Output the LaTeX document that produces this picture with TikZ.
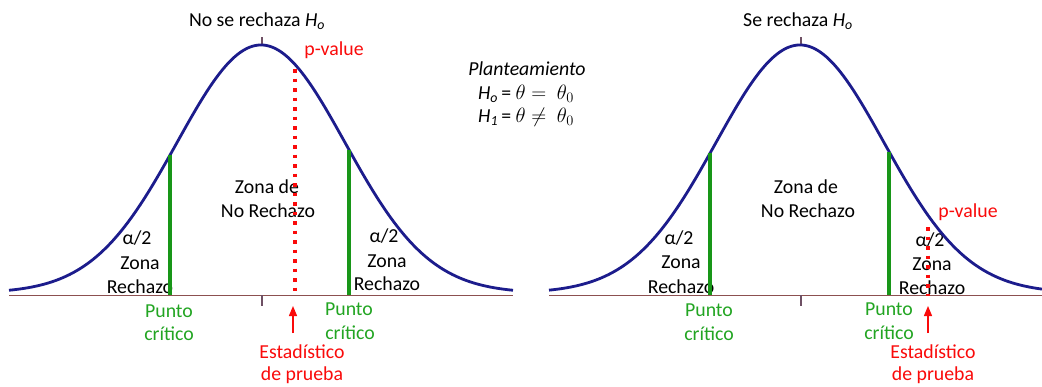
\documentclass[tikz,border=0pt]{standalone}
\usepackage{fontspec}
\setmainfont{Carlito}
\usetikzlibrary{arrows.meta}
\definecolor{curveblue}{RGB}{28,28,140}
\definecolor{critgreen}{RGB}{24,150,24}
\definecolor{gtextc}{RGB}{34,165,34}
\definecolor{redc}{RGB}{250,10,10}
\definecolor{axisc}{RGB}{140,80,80}
\definecolor{tickc}{RGB}{110,80,100}
\newcommand{\cy}[2]{293-248*exp(-0.5*((#1-#2)/84)*((#1-#2)/84))}
\newcommand{\bigmath}[1]{{\fontsize{20.74}{23}\selectfont$#1$}}
\tikzset{
  lbl/.style={anchor=base, inner sep=0pt, font=\fontsize{19.8}{23}\selectfont},
  gtext/.style={text=gtextc},
  rtext/.style={text=redc},
  curve/.style={draw=curveblue, line width=2.8pt, line join=round},
  critline/.style={draw=critgreen, line width=4pt},
  pdots/.style={draw=redc, line width=3.5pt, dash pattern=on 3.5pt off 6pt},
  rarrow/.style={draw=redc, line width=1.3pt, -{Triangle[width=8pt,length=10pt]}},
  axisline/.style={draw=axisc, line width=1pt},
  tickline/.style={draw=tickc, line width=1.2pt}
}
\begin{document}
\begin{tikzpicture}[x=1pt,y=-1pt]
\useasboundingbox[fill=white] (0,0) rectangle (1042,386);

% ---------- left chart: texts ----------
\node[lbl] (t1) at (257,26) {No se rechaza \textit{H\textsubscript{o}}};
\node[lbl,rtext] (pv1) at (334,55) {p-value};
\node[lbl] (z1a) at (267,193) {Zona de};
\node[lbl] (z1b) at (268,217) {No Rechazo};
\node[lbl] (a1l) at (137,244) {α/2};
\node[lbl] (z1l) at (140,269) {Zona};
\node[lbl] (r1l) at (140,293) {Rechazo};
\node[lbl] (a1r) at (384,242) {α/2};
\node[lbl] (z1r) at (387,267) {Zona};
\node[lbl] (r1r) at (387,290) {Rechazo};
\node[lbl,gtext] (p1l) at (169,317) {Punto};
\node[lbl,gtext] (c1l) at (169,340) {crítico};
\node[lbl,gtext] (p1r) at (349,315) {Punto};
\node[lbl,gtext] (c1r) at (350,339) {crítico};
\node[lbl,rtext] (e1) at (302,358) {Estadístico};
\node[lbl,rtext] (d1) at (302,380) {de prueba};

% ---------- middle ----------
\node[lbl] (pl) at (527,75) {\textit{Planteamiento}};
\node[lbl] (h0) at (526,99) {\textit{H\textsubscript{o}}\,= \bigmath{\theta =\ \theta_0}};
\node[lbl] (h1) at (526,122) {\textit{H\textsubscript{1}}\,= \bigmath{\theta \neq\ \theta_0}};

% ---------- right chart: texts ----------
\node[lbl] (t2) at (798,26) {Se rechaza \textit{H\textsubscript{o}}};
\node[lbl,rtext] (pv2) at (968,217) {p-value};
\node[lbl] (z2a) at (806,193) {Zona de};
\node[lbl] (z2b) at (808,217) {No Rechazo};
\node[lbl] (a2l) at (679,244) {α/2};
\node[lbl] (z2l) at (681,268) {Zona};
\node[lbl] (r2l) at (681,293) {Rechazo};
\node[lbl] (a2r) at (930,246) {α/2};
\node[lbl] (z2r) at (932,270) {Zona};
\node[lbl] (r2r) at (932,294) {Rechazo};
\node[lbl,gtext] (p2l) at (709,316) {Punto};
\node[lbl,gtext] (c2l) at (709,340) {crítico};
\node[lbl,gtext] (p2r) at (889,315) {Punto};
\node[lbl,gtext] (c2r) at (889,339) {crítico};
\node[lbl,rtext] (e2) at (933,358) {Estadístico};
\node[lbl,rtext] (d2) at (933,380) {de prueba};

% ---------- left chart: drawing ----------
\draw[axisline] (9,295) -- (513,295);
\draw[tickline] (262,37) -- (262,45);
\draw[tickline] (262,295) -- (262,306);
\draw[curve] plot[domain=9:513,samples=200] (\x,{\cy{\x}{261}});
\coordinate (g1lt) at (170,{\cy{170}{261}});
\coordinate (g1lb) at (170,295);
\coordinate (g1rt) at (349,{\cy{349}{261}});
\coordinate (g1rb) at (349,295);
\draw[critline] (g1lt) -- (g1lb);
\draw[critline] (g1rt) -- (g1rb);
\coordinate (q1t) at (295,69);
\coordinate (q1b) at (295,296);
\draw[pdots] (q1t) -- (q1b);
\coordinate (ar1s) at (293,333);
\coordinate (ar1e) at (293,306);
\draw[rarrow] (ar1s) -- (ar1e);

% ---------- right chart: drawing ----------
\draw[axisline] (549,295) -- (1042,295);
\draw[tickline] (801,37) -- (801,45);
\draw[tickline] (801,295) -- (801,306);
\draw[curve] plot[domain=549:1042,samples=200] (\x,{\cy{\x}{800}});
\coordinate (g2lt) at (710,{\cy{710}{800}});
\coordinate (g2lb) at (710,295);
\coordinate (g2rt) at (889,{\cy{889}{800}});
\coordinate (g2rb) at (889,295);
\draw[critline] (g2lt) -- (g2lb);
\draw[critline] (g2rt) -- (g2rb);
\coordinate (q2t) at (928,227);
\coordinate (q2b) at (928,296);
\draw[pdots] (q2t) -- (q2b);
\coordinate (ar2s) at (928,333);
\coordinate (ar2e) at (928,306);
\draw[rarrow] (ar2s) -- (ar2e);
\end{tikzpicture}
\end{document}
